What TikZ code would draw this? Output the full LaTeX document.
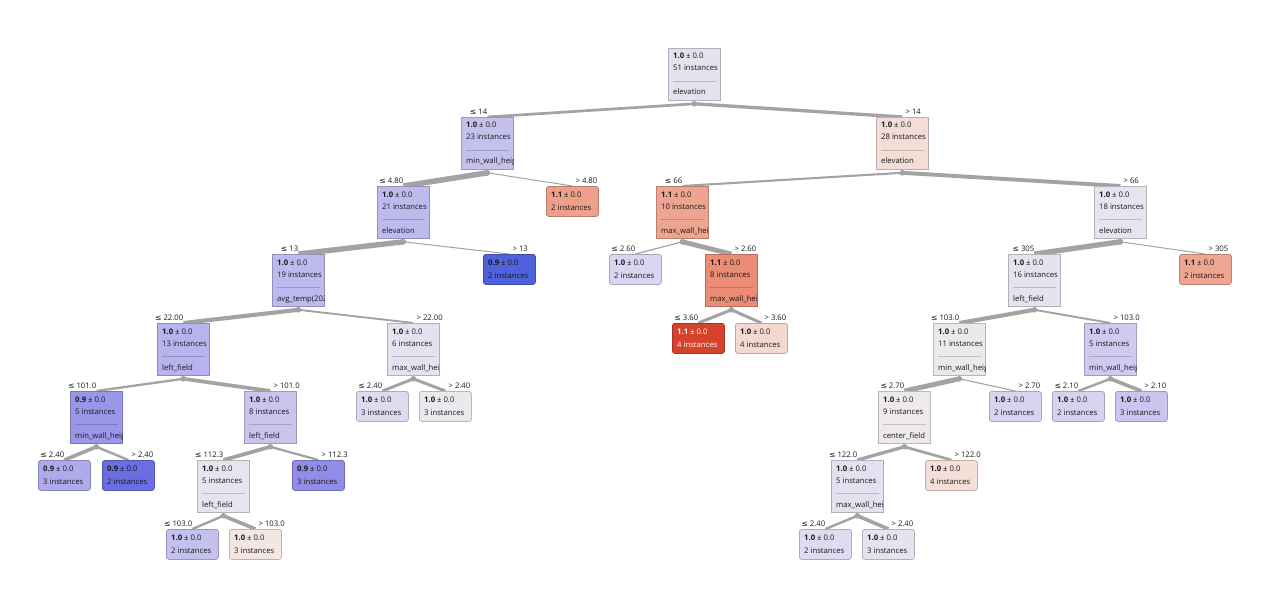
\documentclass[tikz,border=0pt]{standalone}
\usepackage{fontspec}
\setmainfont{Open Sans}
\newfontfamily\symf{DejaVu Sans}
\pgfdeclarelayer{bg}
\pgfsetlayers{bg,main}
\definecolor{tcol}{HTML}{1A1A1A}
\definecolor{edgec}{HTML}{A3A3A3}
\definecolor{cR}{HTML}{E4E2EE}
\definecolor{cA}{HTML}{C5C1EE}
\definecolor{cB}{HTML}{F3DDD6}
\definecolor{cAA}{HTML}{BFBAEE}
\definecolor{cAB}{HTML}{EDA08A}
\definecolor{cBA}{HTML}{EEA48E}
\definecolor{cBB}{HTML}{E6E5EF}
\definecolor{cAAA}{HTML}{BEB9EE}
\definecolor{cAAB}{HTML}{4F62DC}
\definecolor{cBAA}{HTML}{D8D6F1}
\definecolor{cBAB}{HTML}{EB8C74}
\definecolor{cBBA}{HTML}{E4E3EF}
\definecolor{cBBB}{HTML}{EEA692}
\definecolor{cAAAA}{HTML}{B8B2EE}
\definecolor{cAAAB}{HTML}{E3E2EF}
\definecolor{cBABA}{HTML}{D5432C}
\definecolor{cBABB}{HTML}{F4D9D0}
\definecolor{cBBAA}{HTML}{EBE9EC}
\definecolor{cBBAB}{HTML}{CFCAF0}
\definecolor{cAfa}{HTML}{9A97E8}
\definecolor{cAfb}{HTML}{C9C5EF}
\definecolor{cAfc}{HTML}{DDDBF0}
\definecolor{cAfd}{HTML}{EAE9EE}
\definecolor{cBfa}{HTML}{EEEAEA}
\definecolor{cBfb}{HTML}{D7D4F1}
\definecolor{cBfc}{HTML}{D6D3F1}
\definecolor{cBfd}{HTML}{CAC6EF}
\definecolor{cAsa}{HTML}{AEAAEB}
\definecolor{cAsb}{HTML}{6A6EE0}
\definecolor{cAsc}{HTML}{E6E5EF}
\definecolor{cAsd}{HTML}{8F8DE6}
\definecolor{cBsa}{HTML}{E3E1EF}
\definecolor{cBsb}{HTML}{F4E0D8}
\definecolor{cAva}{HTML}{C5C1EF}
\definecolor{cAvb}{HTML}{F4E6E2}
\definecolor{cBva}{HTML}{DEDCF0}
\definecolor{cBvb}{HTML}{E4E3EF}
\tikzset{
  inbox/.style={rectangle, anchor=north west, minimum width=52pt, minimum height=52pt, inner sep=0pt, line width=0.8pt},
  leafbox/.style={rectangle, rounded corners=2.5pt, anchor=north west, minimum width=52pt, minimum height=30pt, inner sep=0pt, line width=0.8pt},
  txt/.style={anchor=base west, inner sep=0pt, font=\fontsize{7.7}{9}\selectfont},
  lbl/.style={inner sep=0pt, font=\fontsize{7.7}{9}\selectfont, text=tcol},
  sepl/.style={draw=black, draw opacity=0.18, line width=0.8pt},
  edgeln/.style={draw=edgec, line cap=butt},
  dotc/.style={fill=edgec}
}
\newcommand{\InNode}[7]{%
  \node[inbox, fill=#4, draw=#4!78!black] (#1) at (#2,#3) {};
  \node[txt, text=tcol] at ([xshift=5pt,yshift=-11pt]#1.north west) {\textbf{#5} ± 0.0};
  \node[txt, text=tcol] at ([xshift=5pt,yshift=-23pt]#1.north west) {#6 instances};
  \draw[sepl] ([xshift=5pt,yshift=-33.5pt]#1.north west) -- ([xshift=-5pt,yshift=-33.5pt]#1.north east);
  \begin{scope}
    \clip ([xshift=0.4pt]#1.north west) rectangle ([xshift=-0.4pt]#1.south east);
    \node[txt, text=tcol] at ([xshift=5pt,yshift=-47pt]#1.north west) {#7};
  \end{scope}
  \coordinate (#1-d) at ([yshift=-3pt]#1.south);
  \fill[dotc] (#1-d) circle (2.8pt);
}
\newcommand{\LeafNode}[7]{%
  \node[leafbox, fill=#4, draw=#4!78!black] (#1) at (#2,#3) {};
  \node[txt, text=#7] at ([xshift=5pt,yshift=-11pt]#1.north west) {\textbf{#5} ± 0.0};
  \node[txt, text=#7] at ([xshift=5pt,yshift=-24pt]#1.north west) {#6 instances};
}
\newcommand{\EdgeL}[4]{%
  \begin{pgfonlayer}{bg}\draw[edgeln, line width=#3pt] (#1-d) -- (#2.north);\end{pgfonlayer}
  \node[lbl, anchor=base east] at ([yshift=2.5pt]#2.north) {{\symf ≤} #4};
}
\newcommand{\EdgeR}[4]{%
  \begin{pgfonlayer}{bg}\draw[edgeln, line width=#3pt] (#1-d) -- (#2.north);\end{pgfonlayer}
  \node[lbl, anchor=base west] at ([xshift=3pt,yshift=2.5pt]#2.north) {> #4};
}
\begin{document}
\begin{tikzpicture}[x=1pt,y=-1pt]
\useasboundingbox (0,0) rectangle (1280,607);
\begin{pgfonlayer}{bg}\fill[white] (0,0) rectangle (1280,607);\end{pgfonlayer}
% level 0-1
\InNode{R}{668}{48}{cR}{1.0}{51}{elevation}
\InNode{A}{461}{117}{cA}{1.0}{23}{min\_wall\_heig}
\InNode{B}{876}{117}{cB}{1.0}{28}{elevation}
% level 2
\InNode{AA}{377}{186}{cAA}{1.0}{21}{elevation}
\LeafNode{AB}{546}{186}{cAB}{1.1}{2}{tcol}
\InNode{BA}{656}{186}{cBA}{1.1}{10}{max\_wall\_heig}
\InNode{BB}{1094}{186}{cBB}{1.0}{18}{elevation}
% level 3
\InNode{AAA}{272}{254}{cAAA}{1.0}{19}{avg\_temp(202}
\LeafNode{AAB}{483}{254}{cAAB}{0.9}{2}{tcol}
\LeafNode{BAA}{609}{254}{cBAA}{1.0}{2}{tcol}
\InNode{BAB}{705}{254}{cBAB}{1.1}{8}{max\_wall\_heig}
\InNode{BBA}{1008}{254}{cBBA}{1.0}{16}{left\_field}
\LeafNode{BBB}{1179}{254}{cBBB}{1.1}{2}{tcol}
% level 4
\InNode{AAAA}{157}{323}{cAAAA}{1.0}{13}{left\_field}
\InNode{AAAB}{387}{323}{cAAAB}{1.0}{6}{max\_wall\_heig}
\LeafNode{BABA}{672}{323}{cBABA}{1.1}{4}{white}
\LeafNode{BABB}{735}{323}{cBABB}{1.0}{4}{tcol}
\InNode{BBAA}{933}{323}{cBBAA}{1.0}{11}{min\_wall\_heig}
\InNode{BBAB}{1084}{323}{cBBAB}{1.0}{5}{min\_wall\_heig}
% level 5
\InNode{Afa}{70}{391}{cAfa}{0.9}{5}{min\_wall\_heig}
\InNode{Afb}{244}{391}{cAfb}{1.0}{8}{left\_field}
\LeafNode{Afc}{356}{391}{cAfc}{1.0}{3}{tcol}
\LeafNode{Afd}{419}{391}{cAfd}{1.0}{3}{tcol}
\InNode{Bfa}{878}{391}{cBfa}{1.0}{9}{center\_field}
\LeafNode{Bfb}{989}{391}{cBfb}{1.0}{2}{tcol}
\LeafNode{Bfc}{1052}{391}{cBfc}{1.0}{2}{tcol}
\LeafNode{Bfd}{1115}{391}{cBfd}{1.0}{3}{tcol}
% level 6
\LeafNode{Asa}{38}{460}{cAsa}{0.9}{3}{tcol}
\LeafNode{Asb}{102}{460}{cAsb}{0.9}{2}{tcol}
\InNode{Asc}{197}{460}{cAsc}{1.0}{5}{left\_field}
\LeafNode{Asd}{292}{460}{cAsd}{0.9}{3}{tcol}
\InNode{Bsa}{831}{460}{cBsa}{1.0}{5}{max\_wall\_heig}
\LeafNode{Bsb}{925}{460}{cBsb}{1.0}{4}{tcol}
% level 7
\LeafNode{Ava}{166}{529}{cAva}{1.0}{2}{tcol}
\LeafNode{Avb}{229}{529}{cAvb}{1.0}{3}{tcol}
\LeafNode{Bva}{799}{529}{cBva}{1.0}{2}{tcol}
\LeafNode{Bvb}{862}{529}{cBvb}{1.0}{3}{tcol}
% edges
\EdgeL{R}{A}{2.7}{14}
\EdgeR{R}{B}{3.3}{14}
\EdgeL{A}{AA}{5.5}{4.80}
\EdgeR{A}{AB}{1}{4.80}
\EdgeL{B}{BA}{2.1}{66}
\EdgeR{B}{BB}{3.9}{66}
\EdgeL{AA}{AAA}{5.4}{13}
\EdgeR{AA}{AAB}{1}{13}
\EdgeL{BA}{BAA}{1.2}{2.60}
\EdgeR{BA}{BAB}{4.8}{2.60}
\EdgeL{BB}{BBA}{5.3}{305}
\EdgeR{BB}{BBB}{1}{305}
\EdgeL{AAA}{AAAA}{4.1}{22.00}
\EdgeR{AAA}{AAAB}{1.9}{22.00}
\EdgeL{BAB}{BABA}{3}{3.60}
\EdgeR{BAB}{BABB}{3}{3.60}
\EdgeL{BBA}{BBAA}{4.1}{103.0}
\EdgeR{BBA}{BBAB}{1.9}{103.0}
\EdgeL{AAAA}{Afa}{2.3}{101.0}
\EdgeR{AAAA}{Afb}{3.7}{101.0}
\EdgeL{AAAB}{Afc}{3}{2.40}
\EdgeR{AAAB}{Afd}{3}{2.40}
\EdgeL{BBAA}{Bfa}{4.9}{2.70}
\EdgeR{BBAA}{Bfb}{1.1}{2.70}
\EdgeL{BBAB}{Bfc}{2.4}{2.10}
\EdgeR{BBAB}{Bfd}{3.6}{2.10}
\EdgeL{Afa}{Asa}{3.6}{2.40}
\EdgeR{Afa}{Asb}{2.4}{2.40}
\EdgeL{Afb}{Asc}{3.75}{112.3}
\EdgeR{Afb}{Asd}{2.25}{112.3}
\EdgeL{Bfa}{Bsa}{3.3}{122.0}
\EdgeR{Bfa}{Bsb}{2.7}{122.0}
\EdgeL{Asc}{Ava}{2.4}{103.0}
\EdgeR{Asc}{Avb}{3.6}{103.0}
\EdgeL{Bsa}{Bva}{2.4}{2.40}
\EdgeR{Bsa}{Bvb}{3.6}{2.40}
\end{tikzpicture}
\end{document}
